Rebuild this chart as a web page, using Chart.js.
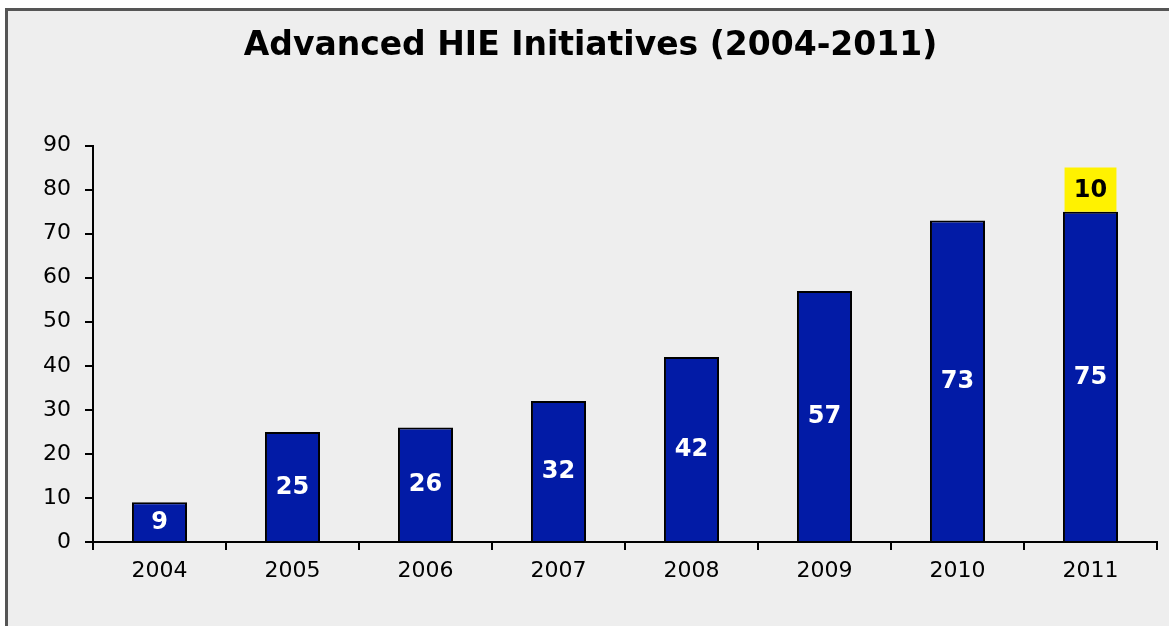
<!DOCTYPE html>
<html>
<head>
<meta charset="utf-8">
<script src="https://cdn.jsdelivr.net/npm/chart.js@4.4.1/dist/chart.umd.min.js"></script>
<style>
  html, body { margin: 0; padding: 0; background: #fff; }
  #frame {
    position: absolute; left: 5px; top: 8px; width: 1200px; height: 700px;
    background: #eeeeee; border-left: 3px solid #555; border-top: 3px solid #555;
  }
  #wrap { position: absolute; left: 0; top: 0; width: 1169px; height: 626px; }
</style>
</head>
<body>
<div id="frame"></div>
<div id="wrap"><canvas id="hieChart"></canvas></div>
<script>
const years = ['2004', '2005', '2006', '2007', '2008', '2009', '2010', '2011'];
const initiatives = [9, 25, 26, 32, 42, 57, 73, 75];
const extra2011 = [null, null, null, null, null, null, null, 10];
const yTicks = [0, 10, 20, 30, 40, 50, 60, 70, 80, 90];

const FONT = 'DejaVu Sans, Verdana, sans-serif';

// writes each segment's value in the middle of its bar
const barLabels = {
    id: 'barLabels',
    afterDatasetsDraw(chart) {
        const ctx = chart.ctx;
        ctx.save();
        ctx.font = 'bold 24px ' + FONT;
        ctx.textAlign = 'center';
        ctx.textBaseline = 'middle';
        chart.data.datasets.forEach((ds, i) => {
            const meta = chart.getDatasetMeta(i);
            meta.data.forEach((bar, j) => {
                const v = ds.data[j];
                if (v === null || v === undefined) return;
                ctx.fillStyle = ds.labelColor;
                ctx.fillText(String(v), bar.x, (bar.y + bar.base) / 2 + 1);
            });
        });
        ctx.restore();
    }
};

new Chart(document.getElementById('hieChart'), {
    type: 'bar',
    data: {
        labels: years,
        datasets: [{
            data: initiatives,
            backgroundColor: '#021ba6',
            borderColor: '#000',
            borderWidth: 2,
            barPercentage: 0.414,
            categoryPercentage: 1,
            labelColor: '#fff'
        }, {
            data: extra2011,
            backgroundColor: '#fff200',
            borderWidth: 0,
            barPercentage: 0.39,
            categoryPercentage: 1,
            labelColor: '#000'
        }]
    },
    options: {
        responsive: true,
        maintainAspectRatio: false,
        animation: false,
        layout: { padding: { left: 24, right: 12, top: 0, bottom: 0 } },
        plugins: {
            legend: { display: false },
            tooltip: { enabled: false },
            title: {
                display: true,
                text: 'Advanced HIE Initiatives (2004-2011)',
                color: '#000',
                font: { family: FONT, size: 33, weight: 'bold' },
                padding: { top: 27, bottom: 79 }
            }
        },
        scales: {
            x: {
                stacked: true,
                grid: { drawOnChartArea: false, drawTicks: true, tickLength: 8, color: '#000', lineWidth: 2, offset: true },
                border: { color: '#000', width: 2 },
                ticks: { color: '#000', font: { family: FONT, size: 22 }, padding: 8 },
                afterFit(scale) { scale.height = 84; }
            },
            y: {
                stacked: true,
                min: 0,
                max: 90,
                afterBuildTicks(scale) { scale.ticks = yTicks.map(v => ({ value: v })); },
                grid: { drawOnChartArea: false, drawTicks: true, tickLength: 8, color: '#000', lineWidth: 2 },
                border: { color: '#000', width: 2 },
                ticks: { color: '#000', font: { family: FONT, size: 22 }, padding: 14 },
                afterFit(scale) { scale.width = 69; }
            }
        }
    },
    plugins: [barLabels]
});
</script>
</body>
</html>
